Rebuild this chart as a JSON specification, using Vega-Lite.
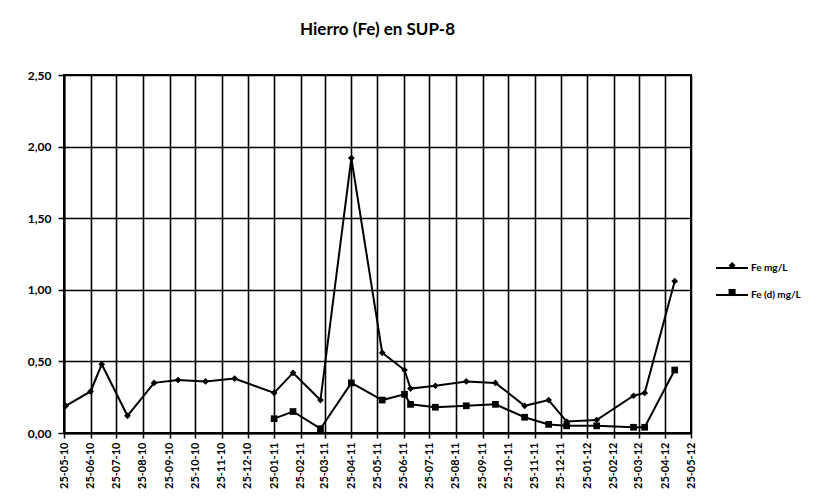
{
  "$schema": "https://vega.github.io/schema/vega-lite/v6.json",
  "autosize": {"type": "none"},
  "width": 627,
  "height": 358,
  "padding": {"left": 64, "top": 75, "right": 136, "bottom": 68},
  "background": "white",
  "config": {
    "font": "Lato",
    "view": {"stroke": "black", "strokeWidth": 2},
    "axis": {"gridColor": "black", "gridWidth": 1.6, "gridOpacity": 1, "domainColor": "black", "domainWidth": 2, "tickColor": "black", "tickWidth": 1.5, "labelColor": "black", "labelFont": "Lato", "labelFontWeight": "bold"}
  },
  "title": {"text": "Hierro (Fe) en SUP-8", "fontSize": 17, "fontWeight": "bold", "font": "Lato", "color": "black", "anchor": "middle", "offset": 30},
  "data": {"values": [
    {"fecha": "2010-05-27T00:00:00", "serie": "Fe mg/L", "valor": 0.19},
    {"fecha": "2010-06-25T00:00:00", "serie": "Fe mg/L", "valor": 0.29},
    {"fecha": "2010-07-08T00:00:00", "serie": "Fe mg/L", "valor": 0.48},
    {"fecha": "2010-08-07T00:00:00", "serie": "Fe mg/L", "valor": 0.12},
    {"fecha": "2010-09-07T00:00:00", "serie": "Fe mg/L", "valor": 0.35},
    {"fecha": "2010-10-05T00:00:00", "serie": "Fe mg/L", "valor": 0.37},
    {"fecha": "2010-11-06T00:00:00", "serie": "Fe mg/L", "valor": 0.36},
    {"fecha": "2010-12-10T00:00:00", "serie": "Fe mg/L", "valor": 0.38},
    {"fecha": "2011-01-25T00:00:00", "serie": "Fe mg/L", "valor": 0.28},
    {"fecha": "2011-02-16T00:00:00", "serie": "Fe mg/L", "valor": 0.42},
    {"fecha": "2011-03-20T00:00:00", "serie": "Fe mg/L", "valor": 0.23},
    {"fecha": "2011-04-25T00:00:00", "serie": "Fe mg/L", "valor": 1.92},
    {"fecha": "2011-05-31T00:00:00", "serie": "Fe mg/L", "valor": 0.56},
    {"fecha": "2011-06-26T00:00:00", "serie": "Fe mg/L", "valor": 0.44},
    {"fecha": "2011-07-03T00:00:00", "serie": "Fe mg/L", "valor": 0.31},
    {"fecha": "2011-08-01T00:00:00", "serie": "Fe mg/L", "valor": 0.33},
    {"fecha": "2011-09-06T00:00:00", "serie": "Fe mg/L", "valor": 0.36},
    {"fecha": "2011-10-10T00:00:00", "serie": "Fe mg/L", "valor": 0.35},
    {"fecha": "2011-11-13T00:00:00", "serie": "Fe mg/L", "valor": 0.19},
    {"fecha": "2011-12-11T00:00:00", "serie": "Fe mg/L", "valor": 0.23},
    {"fecha": "2012-01-01T00:00:00", "serie": "Fe mg/L", "valor": 0.08},
    {"fecha": "2012-02-05T00:00:00", "serie": "Fe mg/L", "valor": 0.09},
    {"fecha": "2012-03-19T00:00:00", "serie": "Fe mg/L", "valor": 0.26},
    {"fecha": "2012-04-01T00:00:00", "serie": "Fe mg/L", "valor": 0.28},
    {"fecha": "2012-05-06T00:00:00", "serie": "Fe mg/L", "valor": 1.06},
    {"fecha": "2011-01-25T00:00:00", "serie": "Fe (d) mg/L", "valor": 0.10},
    {"fecha": "2011-02-16T00:00:00", "serie": "Fe (d) mg/L", "valor": 0.15},
    {"fecha": "2011-03-20T00:00:00", "serie": "Fe (d) mg/L", "valor": 0.03},
    {"fecha": "2011-04-25T00:00:00", "serie": "Fe (d) mg/L", "valor": 0.35},
    {"fecha": "2011-05-31T00:00:00", "serie": "Fe (d) mg/L", "valor": 0.23},
    {"fecha": "2011-06-26T00:00:00", "serie": "Fe (d) mg/L", "valor": 0.27},
    {"fecha": "2011-07-03T00:00:00", "serie": "Fe (d) mg/L", "valor": 0.20},
    {"fecha": "2011-08-01T00:00:00", "serie": "Fe (d) mg/L", "valor": 0.18},
    {"fecha": "2011-09-06T00:00:00", "serie": "Fe (d) mg/L", "valor": 0.19},
    {"fecha": "2011-10-10T00:00:00", "serie": "Fe (d) mg/L", "valor": 0.20},
    {"fecha": "2011-11-13T00:00:00", "serie": "Fe (d) mg/L", "valor": 0.11},
    {"fecha": "2011-12-11T00:00:00", "serie": "Fe (d) mg/L", "valor": 0.06},
    {"fecha": "2012-01-01T00:00:00", "serie": "Fe (d) mg/L", "valor": 0.05},
    {"fecha": "2012-02-05T00:00:00", "serie": "Fe (d) mg/L", "valor": 0.05},
    {"fecha": "2012-03-19T00:00:00", "serie": "Fe (d) mg/L", "valor": 0.04},
    {"fecha": "2012-04-01T00:00:00", "serie": "Fe (d) mg/L", "valor": 0.04},
    {"fecha": "2012-05-06T00:00:00", "serie": "Fe (d) mg/L", "valor": 0.44}
  ]},
  "encoding": {
    "x": {
      "field": "fecha", "type": "temporal",
      "scale": {"domain": [{"year": 2010, "month": 5, "date": 25}, {"year": 2012, "month": 5, "date": 25}]},
      "axis": {
        "title": null, "grid": true, "format": "%d-%m-%y", "labelAngle": 270, "labelAlign": "right", "labelBaseline": "middle",
        "labelFontSize": 11, "tickSize": 5, "labelPadding": 4, "labelOverlap": false, "labelFlush": false,
        "values": [
          {"year": 2010, "month": 5, "date": 25}, {"year": 2010, "month": 6, "date": 25}, {"year": 2010, "month": 7, "date": 25},
          {"year": 2010, "month": 8, "date": 25}, {"year": 2010, "month": 9, "date": 25}, {"year": 2010, "month": 10, "date": 25},
          {"year": 2010, "month": 11, "date": 25}, {"year": 2010, "month": 12, "date": 25}, {"year": 2011, "month": 1, "date": 25},
          {"year": 2011, "month": 2, "date": 25}, {"year": 2011, "month": 3, "date": 25}, {"year": 2011, "month": 4, "date": 25},
          {"year": 2011, "month": 5, "date": 25}, {"year": 2011, "month": 6, "date": 25}, {"year": 2011, "month": 7, "date": 25},
          {"year": 2011, "month": 8, "date": 25}, {"year": 2011, "month": 9, "date": 25}, {"year": 2011, "month": 10, "date": 25},
          {"year": 2011, "month": 11, "date": 25}, {"year": 2011, "month": 12, "date": 25}, {"year": 2012, "month": 1, "date": 25},
          {"year": 2012, "month": 2, "date": 25}, {"year": 2012, "month": 3, "date": 25}, {"year": 2012, "month": 4, "date": 25},
          {"year": 2012, "month": 5, "date": 25}
        ]
      }
    },
    "y": {
      "field": "valor", "type": "quantitative",
      "scale": {"domain": [0, 2.5], "nice": false},
      "axis": {
        "title": null, "grid": true, "values": [0, 0.5, 1, 1.5, 2, 2.5],
        "labelExpr": "replace(format(datum.value, '.2f'), '.', ',')",
        "labelFontSize": 12, "tickSize": 6, "labelPadding": 7
      }
    }
  },
  "layer": [
    {
      "mark": {"type": "line", "strokeWidth": 2},
      "encoding": {
        "color": {
          "field": "serie", "type": "nominal", "sort": ["Fe mg/L", "Fe (d) mg/L"],
          "scale": {"range": ["black", "black"]},
          "legend": {
            "title": null, "orient": "none", "legendX": 659, "legendY": 184,
            "padding": 0, "symbolType": "M-2,0H2", "symbolSize": 256, "symbolStrokeWidth": 2, "symbolStrokeColor": "black",
            "rowPadding": 13, "labelOffset": 10,
            "labelFontSize": 10, "labelFontWeight": "bold", "labelColor": "black", "labelFont": "Lato"
          }
        }
      }
    },
    {
      "mark": {"type": "point", "filled": true, "color": "black", "opacity": 1, "size": 45},
      "encoding": {
        "shape": {
          "field": "serie", "type": "nominal",
          "scale": {"domain": ["Fe mg/L", "Fe (d) mg/L"], "range": ["diamond", "square"]},
          "legend": {
            "title": null, "orient": "none", "legendX": 663.6, "legendY": 186,
            "padding": 0, "symbolSize": 50, "symbolFillColor": "black", "symbolOpacity": 1,
            "rowPadding": 12, "labelOffset": 0, "labelFontSize": 1, "labelExpr": "''", "labelOpacity": 0
          }
        }
      }
    }
  ]
}
